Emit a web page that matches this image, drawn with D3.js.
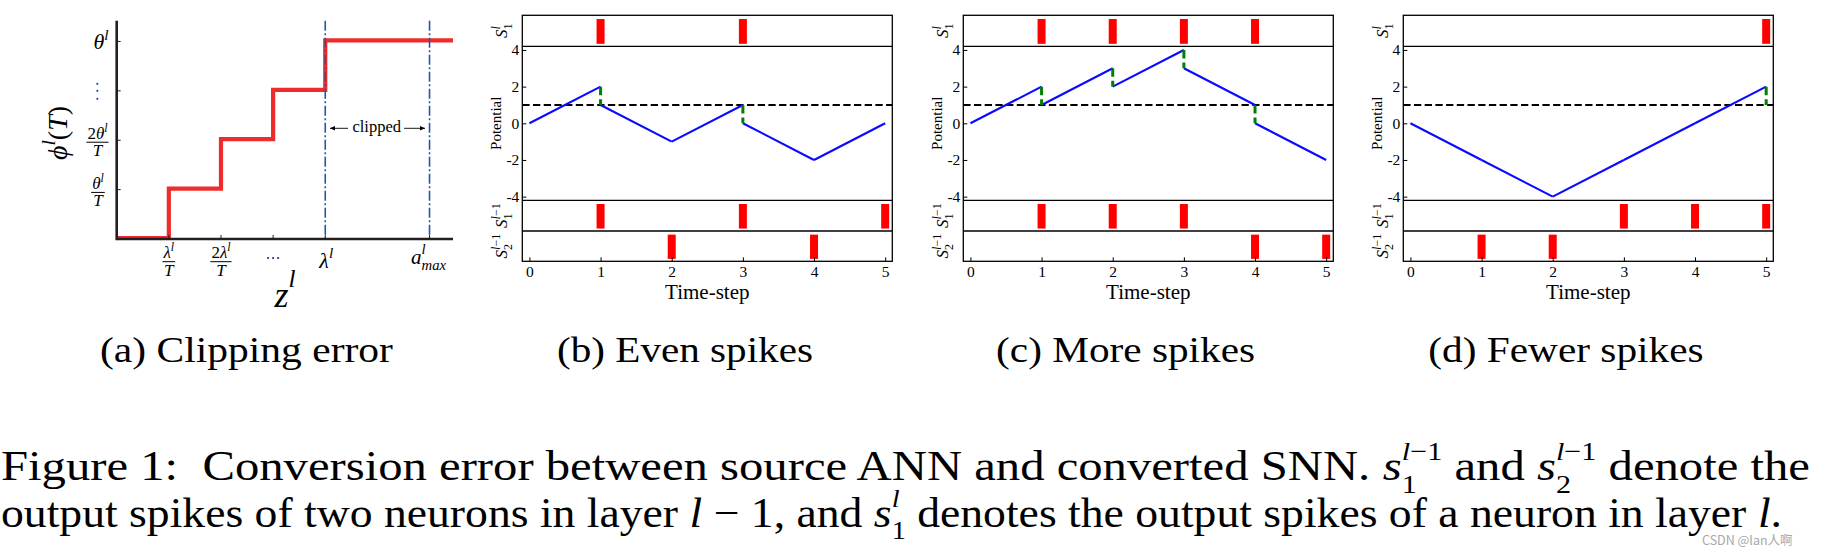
<!DOCTYPE html>
<html><head><meta charset="utf-8">
<script src="https://cdn.jsdelivr.net/npm/d3@7"></script>
<style>
html,body{margin:0;padding:0;background:#fff;}
svg{display:block;}
text{font-family:"Liberation Serif","Times New Roman",serif; white-space:pre;}
</style></head><body>
<svg id="fig" width="1823" height="556"></svg>
<script>
// ---------------- data ----------------
const timeSteps = [0, 1, 2, 3, 4, 5];
const potentialTicks = [-4, -2, 0, 2, 4];
const threshold = 1;

const evenPre  = [0, 2, -1, 1, -2, 0];
const evenPost = [0, 1, -1, 0, -2, 0];
const evenOut  = [1, 3];
const evenIn1  = [1, 3, 5];
const evenIn2  = [2, 4];

const morePre  = [0, 2, 3, 4, 1, -2];
const morePost = [0, 1, 2, 3, 0, -2];
const moreOut  = [1, 2, 3, 4];
const moreIn1  = [1, 2, 3];
const moreIn2  = [4, 5];

const fewerPre  = [0, -2, -4, -2, 0, 2];
const fewerPost = [0, -2, -4, -2, 0, 1];
const fewerOut  = [5];
const fewerIn1  = [3, 4, 5];
const fewerIn2  = [1, 2];

// panel (a): quantised, clipped activation
const clipZ   = [0, 1, 2, 3, 4];    // step edges (units of λ/T)
const clipPhi = [0, 1, 2, 3, 4];    // output level (units of θ/T)
const clipZEnd = 6.45;
const lambdaZ = 4;
const aMaxZ = 6;
const clipXTicks = [1, 2, 3, 4, 6];
const clipYTicks = [1, 2, 3, 4];

const subCaptions = ['(a) Clipping error', '(b) Even spikes', '(c) More spikes', '(d) Fewer spikes'];

// ---------------- helpers ----------------
const svg = d3.select('#fig');

function math(parent, items, o) {
  const g = parent.append('g');
  const inner = g.append('g');
  let x = 0, pend = 0;
  items.forEach(it => {
    const fs = o.size * (it.s || 1);
    const t = inner.append('text').attr('x', x).attr('y', (it.dy || 0) * o.size)
      .attr('font-size', fs).attr('fill', o.fill || '#000');
    const parts = it.p || [[it.t, it.i]];
    parts.forEach(([s, ital]) => t.append('tspan').attr('font-style', ital ? 'italic' : 'normal').text(s));
    const w = t.node().getComputedTextLength();
    if (it.stack) { pend = w; }
    else { x += Math.max(w, pend); pend = 0; }
  });
  const total = x;
  const sx = o.width ? o.width / total : (o.sx || 1);
  const ox = o.anchor === 'middle' ? -total / 2 : o.anchor === 'end' ? -total : 0;
  inner.attr('transform', `scale(${sx},1) translate(${ox},0)`);
  g.attr('transform', `translate(${o.x},${o.y})` + (o.rotate ? ` rotate(${o.rotate})` : ''));
  return total * sx;
}

function frac(parent, cx, barY, num, den, size) {
  const wn = math(parent, num, {x: cx, y: barY - 3.5, size, anchor: 'middle'});
  const wd = math(parent, den, {x: cx, y: barY + 14, size, anchor: 'middle'});
  const w = Math.max(wn, wd) + 2;
  parent.append('line').attr('x1', cx - w / 2).attr('x2', cx + w / 2)
    .attr('y1', barY).attr('y2', barY).attr('stroke', '#000').attr('stroke-width', 1);
}

// ---------------- panel (a) ----------------
(function panelA() {
  const g = svg.append('g');
  const ax = d3.scaleLinear().domain([0, clipZEnd]).range([116.7, 453]);
  const ay = d3.scaleLinear().domain([0, 4.42]).range([239, 20.7]);

  // red staircase
  const pts = clipZ.map((z, i) => [z, clipPhi[i]]);
  pts.push([clipZEnd, clipPhi[clipPhi.length - 1]]);
  g.append('path').attr('d', d3.line().x(d => ax(d[0])).y(d => ay(d[1]) - 1).curve(d3.curveStepAfter)(pts))
    .attr('fill', 'none').attr('stroke', '#ee2c2c').attr('stroke-width', 4.2);

  // dash-dot verticals
  [lambdaZ, aMaxZ].forEach(z => {
    g.append('line').attr('x1', ax(z)).attr('x2', ax(z)).attr('y1', ay(4.42)).attr('y2', ay(0))
      .attr('stroke', '#2456a8').attr('stroke-width', 1.6).attr('stroke-dasharray', '10,2.5,2,2.5');
  });

  // axes
  g.append('path').attr('d', `M${ax(0)},${ay(4.42)}V${ay(0)}H${ax(clipZEnd)}`)
    .attr('fill', 'none').attr('stroke', '#231f20').attr('stroke-width', 2.6);
  clipYTicks.forEach(v => g.append('line').attr('x1', ax(0)).attr('x2', ax(0) + 4)
    .attr('y1', ay(v)).attr('y2', ay(v)).attr('stroke', '#231f20').attr('stroke-width', 1));
  clipXTicks.forEach(v => g.append('line').attr('x1', ax(v)).attr('x2', ax(v))
    .attr('y1', ay(0)).attr('y2', ay(0) - 4).attr('stroke', '#231f20').attr('stroke-width', 1));

  // y tick labels
  frac(g, 98, ay(1) + 2.8, [{t: 'θ', i: true}, {t: 'l', i: true, s: 0.7, dy: -0.42}], [{t: 'T', i: true}], 17);
  frac(g, 97.5, ay(2) + 2, [{t: '2'}, {t: 'θ', i: true}, {t: 'l', i: true, s: 0.7, dy: -0.42}], [{t: 'T', i: true}], 17);
  [-7, 0, 8].forEach(d => g.append('circle').attr('cx', 97.3).attr('cy', ay(3) + d).attr('r', 1.1).attr('fill', '#1f4fa0'));
  math(g, [{t: 'θ', i: true}, {t: 'l', i: true, s: 0.7, dy: -0.42}], {x: 108.5, y: ay(4) + 8, size: 22, anchor: 'end'});

  // x tick labels
  frac(g, ax(1), 261.7, [{t: 'λ', i: true}, {t: 'l', i: true, s: 0.7, dy: -0.42}], [{t: 'T', i: true}], 17);
  frac(g, ax(2), 261.7, [{t: '2'}, {t: 'λ', i: true}, {t: 'l', i: true, s: 0.7, dy: -0.42}], [{t: 'T', i: true}], 17);
  [-5, 0, 5].forEach(d => g.append('circle').attr('cx', ax(3) + d).attr('cy', 258).attr('r', 1.1).attr('fill', '#1c2f80'));
  math(g, [{t: 'λ', i: true}, {t: 'l', i: true, s: 0.7, dy: -0.45}], {x: ax(lambdaZ) + 1, y: 268, size: 22, anchor: 'middle'});
  math(g, [{t: 'a', i: true}, {t: 'l', i: true, s: 0.7, dy: -0.5, stack: true}, {t: 'max', i: true, s: 0.7, dy: 0.3}],
    {x: ax(aMaxZ) - 1, y: 264, size: 21, anchor: 'middle'});

  // axis labels
  math(g, [{t: 'ϕ', i: true}, {t: 'l', i: true, s: 0.7, dy: -0.42}, {t: '('}, {t: 'T', i: true}, {t: ')'}],
    {x: 67, y: 133, size: 28, anchor: 'middle', rotate: -90});
  math(g, [{t: 'z', i: true}, {t: 'l', i: true, s: 0.7, dy: -0.55}], {x: 285, y: 307, size: 36, anchor: 'middle'});

  // clipped annotation
  const yA = 128.3;
  g.append('text').attr('x', 376.7).attr('y', 131.5).attr('font-size', 16.5).attr('text-anchor', 'middle').text('clipped');
  [[348, 330], [404, 425]].forEach(([x1, x2]) => {
    g.append('line').attr('x1', x1).attr('x2', x2).attr('y1', yA).attr('y2', yA).attr('stroke', '#000').attr('stroke-width', 0.9);
    const s = Math.sign(x2 - x1);
    g.append('path').attr('d', `M${x2},${yA}L${x2 - s * 5},${yA - 2.2}L${x2 - s * 5},${yA + 2.2}Z`).attr('fill', '#000');
  });
})();

// ---------------- spike panels ----------------
function spikePanel(left, pre, post, out, in1, in2) {
  const W = 370, top = 15.3, dv1 = 46.3, dv2 = 200.3, dv3 = 231, bottom = 261.3;
  const g = svg.append('g');
  const x = d3.scaleLinear().domain([-0.1, 5.1]).range([left, left + W]);
  const y = d3.scaleLinear().domain([-4.2, 4.2]).range([dv2, dv1]);

  g.append('line').attr('x1', left).attr('x2', left + W).attr('y1', y(threshold)).attr('y2', y(threshold))
    .attr('stroke', '#000').attr('stroke-width', 1.9).attr('stroke-dasharray', '7.3,3.4');

  const line = d3.line().x(d => x(d[0])).y(d => y(d[1]));
  d3.range(pre.length - 1).forEach(i => {
    g.append('path').attr('d', line([[i, post[i]], [i + 1, pre[i + 1]]]))
      .attr('fill', 'none').attr('stroke', '#0a0aff').attr('stroke-width', 2.1);
  });
  timeSteps.forEach(t => {
    if (pre[t] !== post[t]) {
      g.append('line').attr('x1', x(t)).attr('x2', x(t)).attr('y1', y(pre[t])).attr('y2', y(post[t]))
        .attr('stroke', '#008000').attr('stroke-width', 3).attr('stroke-dasharray', '8.5,4');
    }
  });

  // spike rasters
  [[out, top, dv1], [in1, dv2, dv3], [in2, dv3, bottom]].forEach(([times, y0, y1]) => {
    const sy = d3.scaleLinear().domain([-0.1, 1.15]).range([y1, y0]);
    g.selectAll(null).data(times).enter().append('rect')
      .attr('x', d => x(d) - 4).attr('width', 8)
      .attr('y', sy(1)).attr('height', sy(0) - sy(1)).attr('fill', '#ff0000');
  });

  // frame
  g.append('rect').attr('x', left).attr('y', top).attr('width', W).attr('height', bottom - top)
    .attr('fill', 'none').attr('stroke', '#000').attr('stroke-width', 1.3);
  [dv1, dv2, dv3].forEach(v => g.append('line').attr('x1', left).attr('x2', left + W).attr('y1', v).attr('y2', v)
    .attr('stroke', '#000').attr('stroke-width', 1.3));

  // axes
  const ya = g.append('g').attr('transform', `translate(${left},0)`)
    .call(d3.axisLeft(y).tickValues(potentialTicks).tickSizeInner(-4).tickSizeOuter(0).tickPadding(3).tickFormat(d => String(d)));
  const xa = g.append('g').attr('transform', `translate(0,${bottom})`)
    .call(d3.axisBottom(x).tickValues(timeSteps).tickSizeInner(-4).tickSizeOuter(0).tickPadding(5).tickFormat(d => String(d)));
  [ya, xa].forEach(a => {
    a.select('.domain').remove();
    a.selectAll('line').attr('stroke', '#000').attr('stroke-width', 1);
    a.selectAll('text').attr('font-size', 15.5).attr('fill', '#000')
      .style('font-family', '"Liberation Serif","Times New Roman",serif');
  });

  g.append('text').attr('x', left + W / 2).attr('y', 299).attr('font-size', 21).attr('text-anchor', 'middle').text('Time-step');
  g.append('text').attr('transform', `translate(${left - 21},${y(0)}) rotate(-90)`).attr('font-size', 15)
    .attr('text-anchor', 'middle').text('Potential');

  math(g, [{t: 'S', i: true}, {t: 'l', i: true, s: 0.7, dy: -0.42, stack: true}, {t: '1', s: 0.7, dy: 0.28}],
    {x: left - 15, y: (top + dv1) / 2, size: 17, anchor: 'middle', rotate: -90});
  math(g, [{t: 'S', i: true}, {p: [['l', true], ['−1', false]], s: 0.7, dy: -0.42, stack: true}, {t: '1', s: 0.7, dy: 0.28}],
    {x: left - 15, y: (dv2 + dv3) / 2, size: 17, anchor: 'middle', rotate: -90});
  math(g, [{t: 'S', i: true}, {p: [['l', true], ['−1', false]], s: 0.7, dy: -0.42, stack: true}, {t: '2', s: 0.7, dy: 0.28}],
    {x: left - 15, y: (dv3 + bottom) / 2, size: 17, anchor: 'middle', rotate: -90});
}

spikePanel(522.3, evenPre, evenPost, evenOut, evenIn1, evenIn2);
spikePanel(963.3, morePre, morePost, moreOut, moreIn1, moreIn2);
spikePanel(1403.3, fewerPre, fewerPost, fewerOut, fewerIn1, fewerIn2);

// ---------------- captions ----------------
const capPos = [[246.5, 293], [685, 256], [1125.6, 259], [1566, 275.5]];
subCaptions.forEach((c, i) => {
  math(svg, [{t: c}], {x: capPos[i][0], y: 362, size: 36, anchor: 'middle', width: capPos[i][1]});
});

math(svg, [
  {t: 'Figure 1:  Conversion error between source ANN and converted SNN. '},
  {t: 's', i: true},
  {p: [['l', true], ['−1', false]], s: 0.62, dy: -0.47, stack: true},
  {t: '1', s: 0.62, dy: 0.3},
  {t: ' and '},
  {t: 's', i: true},
  {p: [['l', true], ['−1', false]], s: 0.62, dy: -0.47, stack: true},
  {t: '2', s: 0.62, dy: 0.3},
  {t: ' denote the'}
], {x: 1, y: 480, size: 42, width: 1809});

math(svg, [
  {t: 'output spikes of two neurons in layer '},
  {t: 'l', i: true},
  {t: ' − 1, and '},
  {t: 's', i: true},
  {t: 'l', i: true, s: 0.62, dy: -0.47, stack: true},
  {t: '1', s: 0.62, dy: 0.3},
  {t: ' denotes the output spikes of a neuron in layer '},
  {t: 'l', i: true},
  {t: '.'}
], {x: 1, y: 526.7, size: 42, width: 1781});

svg.append('text').attr('x', 1702).attr('y', 545).attr('font-size', 12.5).attr('fill', '#a8a8a8')
  .style('font-family', '"Noto Sans CJK SC","Noto Sans",sans-serif').text('CSDN @lan人啊');
</script>
</body></html>
